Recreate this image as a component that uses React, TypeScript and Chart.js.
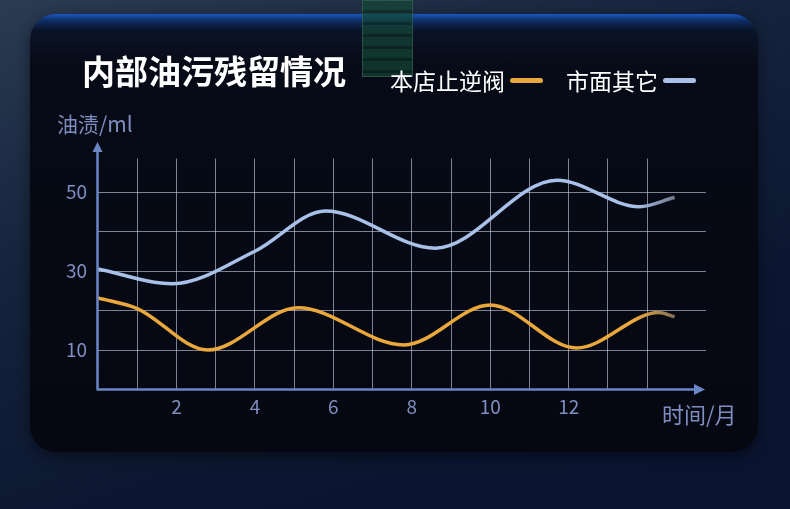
import React, { useEffect, useRef } from 'react';
import { Chart, registerables } from 'chart.js';

Chart.register(...registerables);

// values (x = month, y = ml)
const ourX = [0, 1, 2.8, 5.1, 7.8, 10, 12.2, 14.3, 14.7];
const ourY = [23.2, 20.5, 10, 20.7, 11.3, 21.4, 10.5, 19.5, 18.4];
const otherX = [0, 1.9, 4, 5.8, 8.6, 11.7, 13.8, 14.7];
const otherY = [30.5, 26.8, 35, 45.2, 35.8, 53, 46.3, 48.7];
const xTickLabels = [2, 4, 6, 8, 10, 12];
const yTickLabels = [10, 30, 50];

const seriesNames = ['本店止逆阀', '市面其它'];
const ORANGE = '#eaa73c';
const BLUE = '#a9c0e8';
const AXIS = '#6b86c6';
const TEXT = '#7f8ec0';

const fadeTail = (solid: string, fade: string) => (ctx: any) => {
  const chart = ctx.chart;
  const { chartArea, scales } = chart;
  if (!chartArea) return solid;
  const g = chart.ctx.createLinearGradient(
    scales.x.getPixelForValue(13.7), 0,
    scales.x.getPixelForValue(14.8), 0
  );
  g.addColorStop(0, solid);
  g.addColorStop(1, fade);
  return g;
};

const axisArrows = {
  id: 'axisArrows',
  afterDraw(chart: any) {
    const { ctx, chartArea } = chart;
    const x0 = chartArea.left - 0.5;
    const y0 = chartArea.bottom;
    ctx.save();
    ctx.strokeStyle = AXIS;
    ctx.fillStyle = AXIS;
    ctx.lineWidth = 2.5;
    ctx.beginPath();
    ctx.moveTo(x0, y0);
    ctx.lineTo(x0, 150);
    ctx.moveTo(x0 - 1, y0);
    ctx.lineTo(696, y0);
    ctx.stroke();
    ctx.beginPath();
    ctx.moveTo(x0, 142);
    ctx.lineTo(x0 - 5, 152);
    ctx.lineTo(x0 + 5, 152);
    ctx.closePath();
    ctx.fill();
    ctx.beginPath();
    ctx.moveTo(705, y0);
    ctx.lineTo(694, y0 - 5.5);
    ctx.lineTo(694, y0 + 5.5);
    ctx.closePath();
    ctx.fill();
    ctx.restore();
  },
};

const App: React.FC = () => {
  const chartRef = useRef<HTMLCanvasElement | null>(null);

  useEffect(() => {
    if (!chartRef.current) return;
    const ctx = chartRef.current.getContext('2d');

    const chartInstance = new Chart(ctx as any, {
      type: 'line',
      data: {
        datasets: [
          {
            label: seriesNames[0],
            data: ourX.map((x, i) => ({ x, y: ourY[i] })),
            borderColor: fadeTail(ORANGE, '#7a6a55') as any,
            borderWidth: 3.5,
            pointRadius: 0,
            cubicInterpolationMode: 'monotone',
            fill: false,
          },
          {
            label: seriesNames[1],
            data: otherX.map((x, i) => ({ x, y: otherY[i] })),
            borderColor: fadeTail(BLUE, '#6a7182') as any,
            borderWidth: 3.5,
            pointRadius: 0,
            cubicInterpolationMode: 'monotone',
            fill: false,
          },
        ],
      },
      options: {
        animation: false,
        responsive: false,
        layout: { padding: { left: 0, top: 158.5, right: 84, bottom: 0 } },
        plugins: {
          legend: { display: false },
          tooltip: { enabled: false },
        },
        scales: {
          x: {
            type: 'linear',
            min: 0,
            max: 15.5,
            afterBuildTicks: (scale: any) => {
              scale.ticks = scale.ticks.filter((t: any) => t.value >= 1 && t.value <= 15 && Number.isInteger(t.value));
            },
            afterFit: (scale: any) => {
              scale.height = 119.5;
            },
            ticks: {
              stepSize: 1,
              autoSkip: false,
              maxRotation: 0,
              padding: 6,
              color: TEXT,
              font: { size: 19 },
              callback: (v: any) => (xTickLabels.includes(Number(v)) ? String(v) : ''),
            },
            grid: { color: 'rgba(205,210,235,0.6)', lineWidth: 1, drawTicks: false },
            border: { display: false },
          },
          y: {
            type: 'linear',
            min: 0,
            max: 58.5,
            afterBuildTicks: (scale: any) => {
              scale.ticks = scale.ticks.filter((t: any) => t.value >= 10 && t.value <= 50);
            },
            afterFit: (scale: any) => {
              scale.width = 98;
            },
            ticks: {
              stepSize: 10,
              padding: 11,
              color: TEXT,
              font: { size: 19 },
              callback: (v: any) => (yTickLabels.includes(Number(v)) ? String(v) : ''),
            },
            grid: { color: 'rgba(205,210,235,0.6)', lineWidth: 1, drawTicks: false },
            border: { display: false },
          },
        },
      } as any,
      plugins: [axisArrows],
    });

    return () => {
      chartInstance.destroy();
    };
  }, []);

  Chart.defaults.font.family = '"Noto Sans CJK SC", "Noto Sans", sans-serif';

  return (
    <div
      style={{
        position: 'fixed',
        left: 0,
        top: 0,
        width: 790,
        height: 509,
        overflow: 'hidden',
        background: 'linear-gradient(160deg, #2a3b52 0%, #15233c 35%, #0c1630 70%, #0a1430 100%)',
        fontFamily: '"Noto Sans CJK SC", "Noto Sans", sans-serif',
      }}
    >
      <div
        style={{
          position: 'absolute',
          left: 30,
          top: 14,
          width: 728,
          height: 438,
          borderRadius: 26,
          background: 'linear-gradient(180deg, #1a58c4 0px, #0f2f6a 6px, #0a1428 16px, #070b17 50px, #050811 100%)',
          boxShadow: '0 4px 14px rgba(0,0,0,0.45)',
        }}
      />
      <div
        style={{
          position: 'absolute',
          left: 362,
          top: 0,
          width: 51,
          height: 77,
          background:
            'repeating-linear-gradient(180deg, rgba(20,70,52,0.7) 0px, rgba(20,70,52,0.7) 9px, rgba(12,45,36,0.7) 9px, rgba(12,45,36,0.7) 12px)',
          border: '1px solid rgba(60,110,90,0.55)',
          boxSizing: 'border-box',
        }}
      />
      <canvas
        ref={chartRef}
        width={790}
        height={509}
        style={{ position: 'absolute', left: 0, top: 0, width: 790, height: 509 }}
      />
      <div
        style={{
          position: 'absolute',
          left: 82,
          top: 49,
          fontSize: 33,
          fontWeight: 700,
          color: '#ffffff',
          lineHeight: '42px',
          whiteSpace: 'nowrap',
        }}
      >
        内部油污残留情况
      </div>
      <div
        style={{
          position: 'absolute',
          left: 390,
          top: 65,
          fontSize: 23,
          color: '#ffffff',
          lineHeight: '30px',
          display: 'flex',
          alignItems: 'center',
          whiteSpace: 'nowrap',
        }}
      >
        <span>{seriesNames[0]}</span>
        <span style={{ display: 'inline-block', width: 33, height: 5, borderRadius: 3, background: ORANGE, marginLeft: 5 }} />
        <span style={{ marginLeft: 23 }}>{seriesNames[1]}</span>
        <span style={{ display: 'inline-block', width: 33, height: 5, borderRadius: 3, background: BLUE, marginLeft: 5 }} />
      </div>
      <div
        style={{
          position: 'absolute',
          left: 57,
          top: 108,
          fontSize: 21,
          color: TEXT,
          lineHeight: '30px',
          whiteSpace: 'nowrap',
        }}
      >
        油渍/ml
      </div>
      <div
        style={{
          position: 'absolute',
          left: 662,
          top: 398,
          fontSize: 22,
          color: TEXT,
          lineHeight: '30px',
          whiteSpace: 'nowrap',
        }}
      >
        时间/月
      </div>
    </div>
  );
};

export default App;
